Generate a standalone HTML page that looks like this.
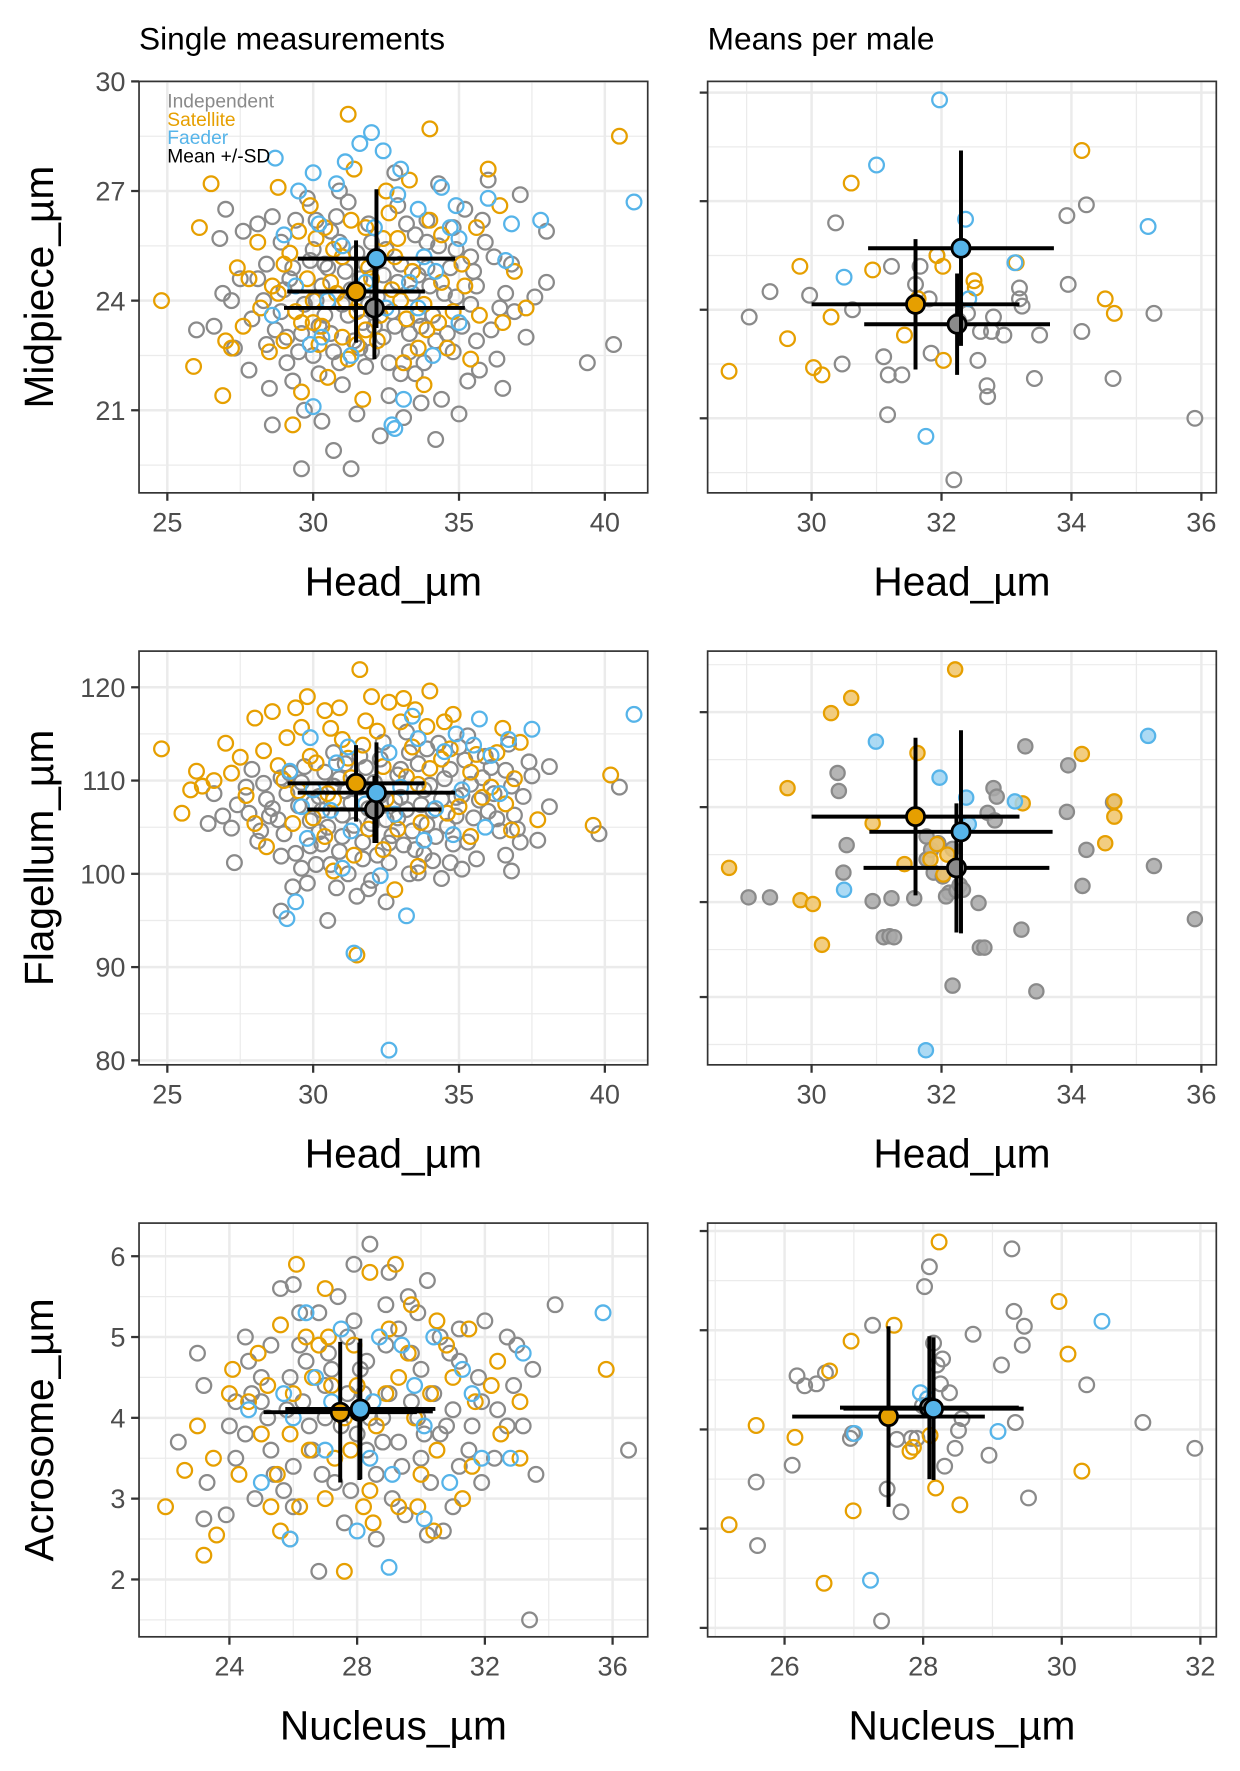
<!DOCTYPE html>
<html><head><meta charset="utf-8"><style>
html,body{margin:0;padding:0;background:#fff;}
svg{display:block;font-family:"Liberation Sans",Arial,sans-serif;}
</style></head><body>
<svg id="chart" width="1240" height="1771" viewBox="0 0 1240 1771" xmlns="http://www.w3.org/2000/svg">
<rect width="1240" height="1771" fill="#fff"/>
<g id="scaled" transform="scale(1.1304)">
<text x="123" y="44" font-size="28" fill="#000">Single measurements</text>
<text x="626" y="44" font-size="28" fill="#000">Means per male</text>
<g id="plots"></g>
</g>
</svg>
<script>
// ---------- DATA ----------
const p1Gray=[[40.3,22.8],[39.4,22.3],[38.0,24.5],[38.0,25.9],[37.1,26.9],[36.9,23.7],[36.5,21.6],[35.6,22.9],[35.0,20.9],[34.4,21.3],[34.2,20.2],[31.3,19.4],[29.6,19.4],[30.7,19.9],[31.5,20.9],[30.3,20.7],[28.6,20.6],[27.8,22.1],[26.6,23.3],[26.0,23.2],[27.0,26.5],[26.8,25.7],[28.5,21.6],[29.1,22.3],[36.0,27.3],[36.6,24.2],[37.3,23.0],[35.9,25.6],[35.2,26.5],[34.7,24.9],[33.9,26.2],[33.3,23.1],[33.0,22.0],[32.6,21.4],[32.0,22.6],[31.7,23.4],[31.1,24.8],[30.6,25.9],[30.1,24.0],[29.6,23.1],[29.2,24.6],[28.9,25.6],[28.3,24.0],[27.9,23.5],[27.5,24.6],[28.1,26.1],[29.8,26.8],[30.9,27.0],[31.9,26.1],[32.5,25.4],[33.6,24.7],[34.1,23.6],[34.8,22.6],[35.4,23.9],[36.3,22.4],[36.8,25.0],[33.1,20.8],[31.0,21.7],[30.0,22.5],[29.3,21.8],[32.8,27.5],[34.3,27.2],[35.6,24.4],[33.5,25.8],[32.2,24.1],[31.4,22.9],[30.4,23.6],[29.9,25.1],[28.7,23.2],[27.3,22.7],[31.8,25.0],[33.8,22.3],[34.9,25.4],[30.8,26.3],[32.4,23.0],[33.4,24.2],[31.6,24.6],[30.2,22.0],[29.4,26.2],[35.3,21.8],[36.1,23.2],[37.6,24.1],[36.2,25.2],[32.9,26.6],[31.2,26.7],[28.4,25.0],[27.6,25.9],[26.9,24.2],[29.0,24.3],[30.5,24.9],[34.6,23.1],[35.8,26.2],[33.7,21.2],[32.3,20.3],[30.9,22.3],[29.7,21.0]];
const p1GrayCore=[[28.4,22.8],[28.9,23.7],[29.3,24.9],[29.7,23.9],[30.0,25.4],[30.3,24.4],[30.6,23.1],[30.9,25.6],[31.2,23.6],[31.5,25.3],[31.8,22.2],[32.1,23.3],[32.4,24.7],[32.7,23.7],[33.0,25.0],[33.3,22.6],[33.6,23.6],[33.9,24.9],[34.2,22.9],[34.5,24.2],[34.8,26.0],[35.1,23.3],[35.4,25.2],[35.7,22.1],[29.1,23.0],[29.5,22.6],[30.1,26.2],[30.7,22.6],[31.3,24.3],[31.9,23.9],[32.6,22.3],[33.2,26.1],[33.7,23.3],[34.3,25.5],[34.9,24.1],[35.5,24.8],[28.1,24.6],[28.6,26.3],[31.0,23.9],[32.0,25.6],[32.9,24.5],[33.5,22.0],[34.0,24.4],[36.4,23.8],[27.2,24.0],[30.4,25.0],[31.6,22.7],[32.8,23.3],[30.2,23.3],[33.9,25.6]];
const p1Orange=[[24.8,24.0],[26.1,26.0],[26.5,27.2],[25.9,22.2],[26.9,21.4],[27.0,22.9],[27.2,22.7],[27.6,23.3],[28.1,25.6],[28.8,27.1],[29.3,20.6],[31.2,29.1],[34.0,28.7],[36.0,27.6],[40.5,28.5],[32.8,25.2],[31.8,26.0],[30.8,24.2],[29.6,23.4],[28.6,24.4],[30.1,25.7],[33.2,23.5],[34.4,24.5],[35.1,25.0],[35.7,23.6],[36.9,24.8],[37.3,23.8],[33.6,22.7],[32.2,22.9],[31.2,22.4],[30.3,23.3],[29.0,22.9],[29.9,26.6],[31.4,27.6],[32.5,27.0],[33.3,27.3],[34.0,26.2],[31.0,25.2],[30.6,24.5],[32.0,24.6],[33.0,24.0],[34.8,23.7],[35.4,22.4],[36.4,26.6],[28.2,23.8],[27.8,24.6],[29.5,25.9],[30.5,21.9],[31.7,21.3],[33.8,21.7],[32.4,25.7],[31.5,23.7],[30.0,24.0],[29.0,25.0],[34.4,25.8],[35.6,26.0],[33.9,23.2],[32.7,24.3],[31.0,23.0],[36.5,23.4]];
const p1OrangeCore=[[28.8,24.2],[29.4,23.7],[29.8,24.6],[30.2,22.8],[30.7,25.4],[31.1,24.0],[31.5,22.8],[31.9,24.9],[32.3,23.6],[32.9,25.7],[33.4,24.8],[33.8,23.9],[34.3,23.4],[30.4,26.0],[29.2,25.3],[32.6,26.4],[31.3,26.2],[28.5,22.6],[30.0,23.4],[33.1,22.3],[34.6,22.7],[35.2,24.4],[27.4,24.9],[29.6,21.5],[31.8,23.2]];
const p1Blue=[[28.7,27.9],[30.0,27.5],[31.1,27.8],[31.6,28.3],[32.0,28.6],[32.4,28.1],[33.0,27.6],[34.4,27.1],[34.9,26.6],[36.0,26.8],[37.8,26.2],[41.0,26.7],[32.7,20.6],[33.1,21.3],[32.8,20.5],[30.0,21.1],[29.9,22.8],[28.6,23.6],[29.0,25.8],[30.2,26.1],[31.0,25.5],[32.1,26.0],[33.6,26.5],[34.2,24.8],[35.0,25.7],[36.6,25.1],[31.5,24.2],[33.3,24.5],[30.3,23.0],[34.1,22.5],[35.0,23.4],[29.5,27.0],[36.8,26.1]];
const p1BlueCore=[[30.5,24.0],[31.8,24.5],[32.5,23.8],[33.8,25.2],[29.4,24.4],[32.9,26.9],[30.8,27.2],[34.7,26.0],[31.3,22.5],[33.6,23.8]];
const p1Means=[["gray",32.1,23.8,3.1,1.4],["orange",31.47,24.25,2.36,1.4],["blue",32.17,25.15,2.7,1.9]];

const p2Gray=[[29.04,23.8],[29.36,24.5],[29.97,24.4],[30.37,26.4],[30.47,22.5],[30.63,24.0],[31.11,22.7],[31.18,22.2],[31.23,25.2],[31.39,22.2],[31.17,21.1],[31.67,25.2],[31.84,22.8],[31.81,24.3],[31.6,24.7],[31.93,25.5],[32.19,19.3],[32.26,23.7],[32.4,23.9],[32.56,22.6],[32.6,23.4],[32.7,21.9],[32.71,21.6],[32.77,23.4],[32.8,23.8],[32.96,23.3],[33.2,24.3],[33.2,24.6],[33.24,24.1],[33.43,22.1],[33.51,23.3],[33.95,24.7],[33.93,26.6],[34.16,23.4],[34.23,26.9],[34.64,22.1],[35.27,23.9],[35.9,21.0]];
const p2Orange=[[28.73,22.3],[29.63,23.2],[29.82,25.2],[30.03,22.4],[30.16,22.2],[30.3,23.8],[30.61,27.5],[30.94,25.1],[31.43,23.3],[31.64,24.3],[31.93,25.5],[32.03,22.6],[32.02,25.2],[32.5,24.8],[32.52,24.6],[33.15,25.3],[34.16,28.4],[34.52,24.3],[34.66,23.9]];
const p2Blue=[[30.5,24.9],[31.0,28.0],[31.76,20.5],[31.97,29.8],[32.37,26.5],[32.42,24.3],[33.13,25.3],[35.18,26.3]];
const p2Means=[["orange",31.6,24.15,1.6,1.8],["gray",32.24,23.6,1.43,1.4],["blue",32.3,25.7,1.43,2.7]];

const p3Gray=[[28.9,96],[29.3,98.6],[30.5,95],[32.5,97],[29.8,99],[31.2,100],[30.6,101],[33.3,100],[34.4,99.5],[35.1,100.5],[36.8,100.3],[37.1,103.4],[37.7,103.6],[38.1,107.2],[39.8,104.3],[40.5,109.3],[37.5,110.5],[36.7,113.9],[35.9,112.6],[35.3,114.8],[34.7,111.2],[33.9,113.4],[33.2,115.2],[32.4,114.1],[31.6,112.6],[30.7,113.0],[29.7,111.5],[28.9,110.3],[27.9,111.2],[27.4,107.4],[26.9,106.2],[26.4,105.4],[27.3,101.2],[28.1,103.5],[28.8,105.8],[29.4,102.2],[30.2,104.5],[31.0,106.3],[31.7,103.4],[32.6,101.2],[33.4,104.6],[34.1,106.8],[34.8,103.2],[35.5,106.0],[36.2,108.6],[36.9,106.3],[33.0,108.2],[32.1,109.8],[31.1,108.9],[30.0,107.6],[29.1,108.6],[28.4,108.0],[34.0,109.5],[35.1,108.4],[36.4,104.6],[37.2,108.3],[30.4,110.9],[31.8,111.4],[33.6,111.8],[34.6,105.1],[32.9,106.0],[31.4,105.2],[29.9,105.7],[28.6,107.0],[27.7,109.3],[26.6,108.6],[35.8,110.3],[36.6,102.0],[33.8,102.1],[30.9,102.4],[29.6,109.8],[32.3,112.3],[34.3,114.0],[37.4,112.0],[38.1,111.5],[35.6,101.6],[32.0,99.3],[30.8,98.5],[31.5,97.6],[33.1,103.1],[34.9,108.2],[36.0,106.7],[28.2,104.6],[27.2,104.9],[30.3,103.2],[32.7,104.1],[31.9,107.0],[33.7,107.4],[35.2,112.2]];
const p3GrayCore=[[28.5,106.2],[29.0,104.3],[29.5,107.3],[29.9,103.0],[30.3,106.8],[30.7,109.4],[31.0,104.0],[31.3,107.6],[31.7,101.6],[32.0,105.4],[32.3,108.4],[32.6,103.3],[32.9,110.6],[33.2,106.9],[33.5,102.6],[33.8,109.0],[34.2,104.0],[34.5,110.2],[34.9,106.2],[35.3,103.4],[35.7,107.9],[36.1,111.4],[29.2,110.8],[30.1,101.0],[31.1,111.8],[32.2,102.0],[33.3,113.0],[34.1,101.4],[35.0,113.6],[36.3,105.9],[27.8,106.5],[28.9,101.9],[30.5,105.0],[31.6,109.3],[32.8,107.8],[33.9,105.3],[35.4,109.6],[36.8,109.4],[30.9,110.2],[34.7,101.2],[31.9,98.4],[29.6,100.6],[33.0,111.2],[37.0,104.8],[28.3,109.7],[32.5,105.8],[34.4,108.0],[30.2,108.3],[33.6,100.1],[36.6,111.1]];
const p3Orange=[[24.8,113.4],[25.5,106.5],[25.8,109.0],[26.2,109.4],[26.6,110.0],[27.0,114.0],[27.5,112.5],[28.0,116.7],[28.6,117.4],[29.4,117.8],[29.8,119.0],[30.4,117.5],[30.9,117.8],[31.6,121.9],[32.0,119.0],[32.6,118.4],[33.1,118.8],[33.5,117.6],[34.0,119.6],[34.8,117.1],[36.5,115.6],[37.1,114.1],[40.2,110.6],[39.6,105.2],[37.7,105.8],[36.6,107.5],[31.5,91.3],[33.6,100.8],[32.8,98.3],[30.7,100.3],[29.3,105.4],[28.4,102.9],[29.9,112.6],[31.0,114.4],[32.2,115.3],[33.4,113.6],[34.4,112.3],[35.4,110.9],[36.1,109.3],[30.5,108.6],[31.3,110.3],[32.5,108.0],[33.2,110.4],[34.6,106.5],[35.4,104.0],[28.8,111.6],[27.7,108.4],[30.0,106.0],[31.9,104.8],[33.7,105.5],[35.8,108.2],[29.1,114.6],[36.9,110.2],[32.4,102.6],[30.6,115.6],[34.5,116.3]];
const p3OrangeCore=[[28.3,113.2],[29.0,110.0],[29.6,115.7],[30.1,111.9],[30.7,108.0],[31.2,112.4],[31.8,116.4],[32.4,111.5],[33.0,116.3],[33.9,115.8],[34.7,113.4],[35.6,112.8],[36.3,113.0],[27.2,110.8],[28.0,105.4],[30.4,104.0],[31.4,102.0],[33.6,109.6],[35.0,107.2],[36.8,104.7],[29.5,108.9],[32.9,104.8],[34.0,111.3],[31.7,113.8],[26.0,111.0]];
const p3Blue=[[29.1,95.2],[29.4,97.0],[31.4,91.5],[33.2,95.5],[32.6,81.1],[37.5,115.5],[41.0,117.1],[35.7,116.6],[34.9,115.0],[33.6,114.5],[31.2,113.6],[29.9,114.6],[29.2,111.0],[30.8,111.9],[32.6,113.0],[34.5,113.1],[36.1,112.7],[35.1,109.0],[33.0,109.3],[31.8,107.5],[30.6,106.8],[33.8,103.6],[35.9,105.0],[32.3,99.8],[29.8,103.8],[36.7,114.4]];
const p3BlueCore=[[30.0,109.0],[31.3,104.6],[32.8,106.4],[34.2,107.0],[35.5,113.8],[33.4,116.9],[29.6,107.2],[36.4,108.6],[31.0,100.6],[34.8,104.2]];
const p3Means=[["gray",32.1,106.9,2.3,3.6],["orange",31.47,109.7,2.35,4.1],["blue",32.17,108.7,2.7,5.4]];

const p4Gray=[[29.03,100.5],[29.36,100.5],[30.4,113.6],[30.42,111.7],[30.54,106.0],[30.49,103.1],[30.94,100.1],[31.23,100.4],[31.11,96.3],[31.2,96.4],[31.27,96.3],[31.58,100.4],[31.77,104.5],[31.88,103.1],[32.02,102.7],[31.77,106.9],[31.84,105.5],[31.95,106.2],[32.12,101.0],[32.07,100.6],[32.17,105.6],[32.23,101.2],[32.28,101.8],[32.33,101.3],[32.57,99.9],[32.59,95.2],[32.66,95.2],[32.71,109.4],[32.8,112.0],[32.82,108.6],[32.85,111.1],[33.23,97.1],[33.29,116.4],[33.46,90.6],[33.93,109.5],[33.95,114.4],[34.17,101.7],[34.23,105.5],[34.64,110.5],[35.27,103.8],[35.9,98.2],[32.17,91.2]];
const p4Orange=[[28.73,103.6],[29.63,112.0],[29.83,100.2],[30.02,99.8],[30.16,95.5],[30.3,119.9],[30.61,121.5],[30.94,108.3],[31.43,104.0],[31.63,115.7],[31.83,104.5],[31.93,106.1],[32.03,102.9],[32.09,105.0],[32.21,124.5],[33.25,110.4],[34.16,115.6],[34.52,106.2],[34.66,109.0],[34.66,110.6]];
const p4Blue=[[30.5,101.3],[30.99,116.9],[31.76,84.4],[31.97,113.1],[32.38,111.0],[32.42,108.2],[33.13,110.6],[35.18,117.5]];
const p4Means=[["orange",31.6,109.0,1.6,8.3],["gray",32.23,103.6,1.43,6.8],["blue",32.3,107.4,1.41,10.7]];

const p5Gray=[[22.4,3.7],[23.0,4.8],[23.2,4.4],[23.3,3.2],[23.2,2.75],[23.9,2.8],[24.2,4.2],[24.5,5.0],[25.3,4.9],[25.6,5.6],[26.0,5.65],[25.9,2.5],[26.8,2.1],[27.9,5.9],[28.4,6.15],[29.0,5.8],[29.6,5.5],[30.2,5.7],[30.2,2.55],[31.0,2.9],[31.2,5.1],[32.0,5.2],[32.7,5.0],[33.0,4.9],[34.2,5.4],[33.6,3.3],[33.4,1.5],[36.5,3.6],[32.4,4.1],[31.8,4.5],[31.2,3.4],[30.6,3.8],[30.0,4.6],[29.4,3.4],[28.9,4.9],[28.3,3.6],[27.7,4.3],[27.1,4.8],[26.5,3.9],[25.9,4.5],[25.3,3.6],[24.7,4.3],[24.2,3.5],[26.2,5.3],[27.4,5.5],[29.1,3.0],[30.7,2.6],[27.6,2.7],[28.6,2.5],[25.7,3.1],[31.6,3.9],[32.9,4.4],[29.7,4.2],[28.1,4.6],[26.9,3.3],[25.0,4.2],[27.0,4.0],[29.3,5.1],[30.9,4.8],[26.4,4.7],[28.8,3.7],[31.9,3.2],[24.0,3.9],[30.3,3.2],[27.8,3.1],[26.0,3.4],[33.2,3.9],[24.6,4.7],[29.9,5.3],[28.4,4.0]];
const p5GrayCore=[[24.5,3.8],[25.0,4.5],[25.4,3.3],[25.8,4.1],[26.2,4.9],[26.6,3.6],[27.0,4.4],[27.3,3.2],[27.7,5.0],[28.0,3.8],[28.3,4.7],[28.6,3.3],[29.0,4.3],[29.3,3.7],[29.7,4.8],[30.0,3.5],[30.4,4.3],[30.8,3.9],[31.2,4.7],[31.5,3.6],[31.9,4.2],[32.3,3.5],[32.7,3.9],[26.0,2.9],[27.5,3.9],[28.9,5.4],[30.6,5.0],[29.5,2.8],[26.8,5.3],[25.2,4.0],[27.2,4.6],[28.2,4.3],[29.9,4.0],[31.0,4.1],[24.8,3.0],[33.5,4.6],[26.3,4.2],[28.8,4.0],[30.1,3.8],[27.9,5.2]];
const p5Orange=[[22.0,2.9],[22.6,3.35],[23.0,3.9],[23.2,2.3],[23.6,2.55],[23.5,3.5],[24.1,4.6],[24.9,4.8],[25.6,5.15],[26.1,5.9],[26.0,4.3],[25.3,2.9],[27.0,5.6],[27.1,5.0],[27.6,2.1],[28.4,5.8],[29.2,5.9],[29.7,5.4],[30.5,5.2],[31.5,5.1],[31.7,4.2],[32.4,4.7],[33.1,4.2],[33.1,3.5],[35.8,4.6],[30.4,2.6],[29.3,2.9],[28.4,3.1],[27.0,3.0],[25.5,3.3],[26.5,3.6],[27.2,4.4],[28.0,4.4],[28.9,4.3],[29.8,4.0],[30.5,3.6],[31.3,3.0],[24.6,4.2],[26.8,4.9],[29.6,4.8],[31.0,4.5],[27.8,3.6],[25.0,3.8],[32.5,3.8],[28.5,2.7],[26.2,2.9]];
const p5OrangeCore=[[24.3,3.3],[25.2,4.4],[25.9,3.8],[26.6,4.5],[27.3,3.5],[27.9,4.9],[28.6,3.9],[29.3,4.5],[30.0,3.3],[30.8,4.9],[31.6,3.4],[26.4,5.0],[28.2,2.9],[29.0,5.1],[30.3,4.3],[24.0,4.3],[32.2,4.4],[27.6,4.0],[25.6,2.6],[29.9,2.9]];
const p5Blue=[[25.9,2.5],[26.0,4.0],[26.4,5.3],[27.5,5.1],[28.0,2.6],[29.0,2.15],[30.1,2.75],[31.6,4.3],[31.9,3.5],[33.2,4.8],[35.7,5.3],[32.8,3.5],[30.9,3.2],[29.8,4.4],[28.7,5.0],[27.2,4.2],[24.6,4.1],[25.0,3.2],[30.4,5.0],[28.4,3.5]];
const p5BlueCore=[[26.7,4.5],[28.5,4.2],[30.1,3.9],[27.0,3.6],[29.4,4.9],[31.3,4.6],[25.7,4.3],[29.1,3.3]];
const p5Means=[["gray",28.07,4.08,2.3,0.85],["orange",27.47,4.07,2.4,0.87],["blue",28.1,4.11,2.35,0.87]];

const p6Gray=[[25.61,2.83],[25.59,3.47],[26.11,3.64],[26.18,4.54],[26.29,4.44],[26.46,4.46],[26.59,4.57],[26.95,3.91],[26.98,3.96],[27.27,5.05],[27.4,2.07],[27.48,3.4],[27.62,3.9],[27.68,3.17],[27.83,3.91],[27.91,3.91],[27.99,4.24],[28.02,5.44],[28.09,5.64],[28.15,4.87],[28.2,4.65],[28.25,4.46],[28.28,4.71],[28.31,3.63],[28.38,4.37],[28.46,3.81],[28.51,3.99],[28.56,4.11],[28.72,4.96],[28.95,3.74],[29.13,4.65],[29.28,5.82],[29.31,5.19],[29.43,4.85],[29.46,5.04],[29.52,3.31],[30.36,4.45],[31.17,4.07],[31.92,3.81],[29.33,4.07]];
const p6Orange=[[25.2,3.04],[25.59,4.04],[26.15,3.92],[26.65,4.59],[26.57,2.45],[26.96,4.89],[26.99,3.18],[27.58,5.05],[27.81,3.78],[27.86,3.82],[28.1,3.94],[28.18,3.41],[28.23,5.89],[28.53,3.24],[29.96,5.29],[30.09,4.76],[30.29,3.58]];
const p6Blue=[[27.24,2.48],[27.01,3.96],[27.96,4.37],[28.06,4.31],[29.08,3.98],[30.58,5.09]];
const p6Means=[["orange",27.5,4.13,1.39,0.91],["gray",28.09,4.22,1.29,0.72],["blue",28.15,4.21,1.3,0.72]];

const ticksHead=[25,30,35,40], ticksHeadMean=[30,32,34,36];
const ticksMid=[21,24,27,30], ticksFlag=[80,90,100,110,120], ticksFlagMean=[90,100,110,120];
const ticksNuc=[24,28,32,36], ticksNucMean=[26,28,30,32], ticksAcr=[2,3,4,5,6];

// ---------- DRAW ----------
const NS="http://www.w3.org/2000/svg";
const COL={gray:"#8a8a8a",orange:"#e69f00",blue:"#56b4e9"};
const FILL={gray:"#a8a8a8",orange:"#f0c46a",blue:"#9dd3f2"};
const root=document.getElementById("plots");
function el(tag,attrs,parent){const e=document.createElementNS(NS,tag);for(const k in attrs)e.setAttribute(k,attrs[k]);(parent||root).appendChild(e);return e;}

function panel(cfg){
  const g=el("g",{});
  
  
  const sx=v=>cfg.px0+(v-cfg.xmin)/(cfg.xmax-cfg.xmin)*(cfg.px1-cfg.px0);
  const sy=v=>cfg.py1-(v-cfg.ymin)/(cfg.ymax-cfg.ymin)*(cfg.py1-cfg.py0);
  el("rect",{x:cfg.px0,y:cfg.py0,width:cfg.px1-cfg.px0,height:cfg.py1-cfg.py0,fill:"#fff"},g);
  const clip=el("clipPath",{id:"c"+cfg.name},g);
  el("rect",{x:cfg.px0,y:cfg.py0,width:cfg.px1-cfg.px0,height:cfg.py1-cfg.py0},clip);
  const inner=el("g",{"clip-path":"url(#c"+cfg.name+")"},g);
  const xs=cfg.xt, ys=cfg.yt;
  const xstep=xs[1]-xs[0], ystep=ys[1]-ys[0];
  for(let v=xs[0]-2*xstep; v<=xs[xs.length-1]+2*xstep; v+=xstep/2){
    const major=Math.abs((v-xs[0])/xstep-Math.round((v-xs[0])/xstep))<1e-6;
    el("line",{x1:sx(v),x2:sx(v),y1:cfg.py0,y2:cfg.py1,stroke:"#ebebeb","stroke-width":major?2.2:1.1},inner);
  }
  for(let v=ys[0]-2*ystep; v<=ys[ys.length-1]+2*ystep; v+=ystep/2){
    const major=Math.abs((v-ys[0])/ystep-Math.round((v-ys[0])/ystep))<1e-6;
    el("line",{y1:sy(v),y2:sy(v),x1:cfg.px0,x2:cfg.px1,stroke:"#ebebeb","stroke-width":major?2.2:1.1},inner);
  }
  const series=[["gray",cfg.gray],["orange",cfg.orange],["blue",cfg.blue]];
  series.forEach(([c,arr])=>{
    arr.forEach(p=>{
      const pt=el("circle",{cx:sx(p[0]),cy:sy(p[1]),r:cfg.filled?6.3:6.5,fill:cfg.filled?FILL[c]:"none","fill-opacity":cfg.filled?0.85:1,stroke:COL[c],"stroke-width":2},inner);
      
      
    });
  });
  cfg.means.forEach(m=>{
    const [c,mx,my,sdx,sdy]=m;
    const mg=el("g",{},inner);
    
    
    el("line",{x1:sx(mx-sdx),x2:sx(mx+sdx),y1:sy(my),y2:sy(my),stroke:"#000","stroke-width":3.5},mg);
    el("line",{x1:sx(mx),x2:sx(mx),y1:sy(my-sdy),y2:sy(my+sdy),stroke:"#000","stroke-width":3.5},mg);
    el("circle",{cx:sx(mx),cy:sy(my),r:8,fill:COL[c],stroke:"#000","stroke-width":2.5},mg);
  });
  el("rect",{x:cfg.px0,y:cfg.py0,width:cfg.px1-cfg.px0,height:cfg.py1-cfg.py0,fill:"none",stroke:"#333","stroke-width":1.5},g);
  xs.forEach(v=>{
    el("line",{x1:sx(v),x2:sx(v),y1:cfg.py1,y2:cfg.py1+7,stroke:"#333","stroke-width":2},g);
    const t=el("text",{x:sx(v),y:cfg.py1+34,"text-anchor":"middle","font-size":24,fill:"#4d4d4d"},g);
    t.textContent=v;
    
    
  });
  ys.forEach(v=>{
    el("line",{x1:cfg.px0-7,x2:cfg.px0,y1:sy(v),y2:sy(v),stroke:"#333","stroke-width":2},g);
    if(cfg.ylabels){
      const t=el("text",{x:cfg.px0-12,y:sy(v)+8.5,"text-anchor":"end","font-size":24,fill:"#4d4d4d"},g);
      t.textContent=v;
      
      
    }
  });
  const xt=el("text",{x:(cfg.px0+cfg.px1)/2,y:cfg.py1+91,"text-anchor":"middle","font-size":36,fill:"#000"},g);
  xt.textContent=cfg.xtitle;
  
  
  if(cfg.ytitle){
    const cy=(cfg.py0+cfg.py1)/2;
    const yt=el("text",{x:47,y:cy,"text-anchor":"middle","font-size":36,fill:"#000",transform:"rotate(-90 47 "+cy+")"},g);
    yt.textContent=cfg.ytitle;
    
    
  }
}

const L={px0:123,px1:573}, R={px0:626,px1:1076};
panel(Object.assign({name:"panel-head-midpiece-single",py0:72,py1:436,xmin:24.03,xmax:41.47,ymin:18.74,ymax:30.0,xt:ticksHead,yt:ticksMid,ylabels:true,gray:p1Gray.concat(p1GrayCore),orange:p1Orange.concat(p1OrangeCore),blue:p1Blue.concat(p1BlueCore),means:p1Means,xtitle:"Head_µm",ytitle:"Midpiece_µm"},L));
panel(Object.assign({name:"panel-head-midpiece-means",py0:72,py1:436,xmin:28.4,xmax:36.23,ymin:18.94,ymax:30.31,xt:ticksHeadMean,yt:ticksMid,ylabels:false,gray:p2Gray,orange:p2Orange,blue:p2Blue,means:p2Means,xtitle:"Head_µm"},R));
panel(Object.assign({name:"panel-head-flagellum-single",py0:576,py1:942,xmin:24.03,xmax:41.47,ymin:79.52,ymax:123.88,xt:ticksHead,yt:ticksFlag,ylabels:true,gray:p3Gray.concat(p3GrayCore),orange:p3Orange.concat(p3OrangeCore),blue:p3Blue.concat(p3BlueCore),means:p3Means,xtitle:"Head_µm",ytitle:"Flagellum_µm"},L));
panel(Object.assign({name:"panel-head-flagellum-means",py0:576,py1:942,xmin:28.4,xmax:36.23,ymin:82.86,ymax:126.43,xt:ticksHeadMean,yt:ticksFlagMean,ylabels:false,filled:true,gray:p4Gray,orange:p4Orange,blue:p4Blue,means:p4Means,xtitle:"Head_µm"},R));
panel(Object.assign({name:"panel-nucleus-acrosome-single",py0:1082,py1:1448,xmin:21.17,xmax:37.1,ymin:1.29,ymax:6.41,xt:ticksNuc,yt:ticksAcr,ylabels:true,gray:p5Gray.concat(p5GrayCore),orange:p5Orange.concat(p5OrangeCore),blue:p5Blue.concat(p5BlueCore),means:p5Means,xtitle:"Nucleus_µm",ytitle:"Acrosome_µm"},L));
panel(Object.assign({name:"panel-nucleus-acrosome-means",py0:1082,py1:1448,xmin:24.89,xmax:32.23,ymin:1.91,ymax:6.08,xt:ticksNucMean,yt:ticksAcr,ylabels:false,gray:p6Gray,orange:p6Orange,blue:p6Blue,means:p6Means,xtitle:"Nucleus_µm"},R));

// legend
const legItems=[["Independent","#8a8a8a"],["Satellite","#e69f00"],["Faeder","#56b4e9"],["Mean +/-SD","#000"]];
const lg=el("g",{});


legItems.forEach((it,i)=>{
  const t=el("text",{x:148,y:95+i*16.3,"font-size":17,fill:it[1]},lg);
  t.textContent=it[0];
  
  
});
</script>
</body></html>
